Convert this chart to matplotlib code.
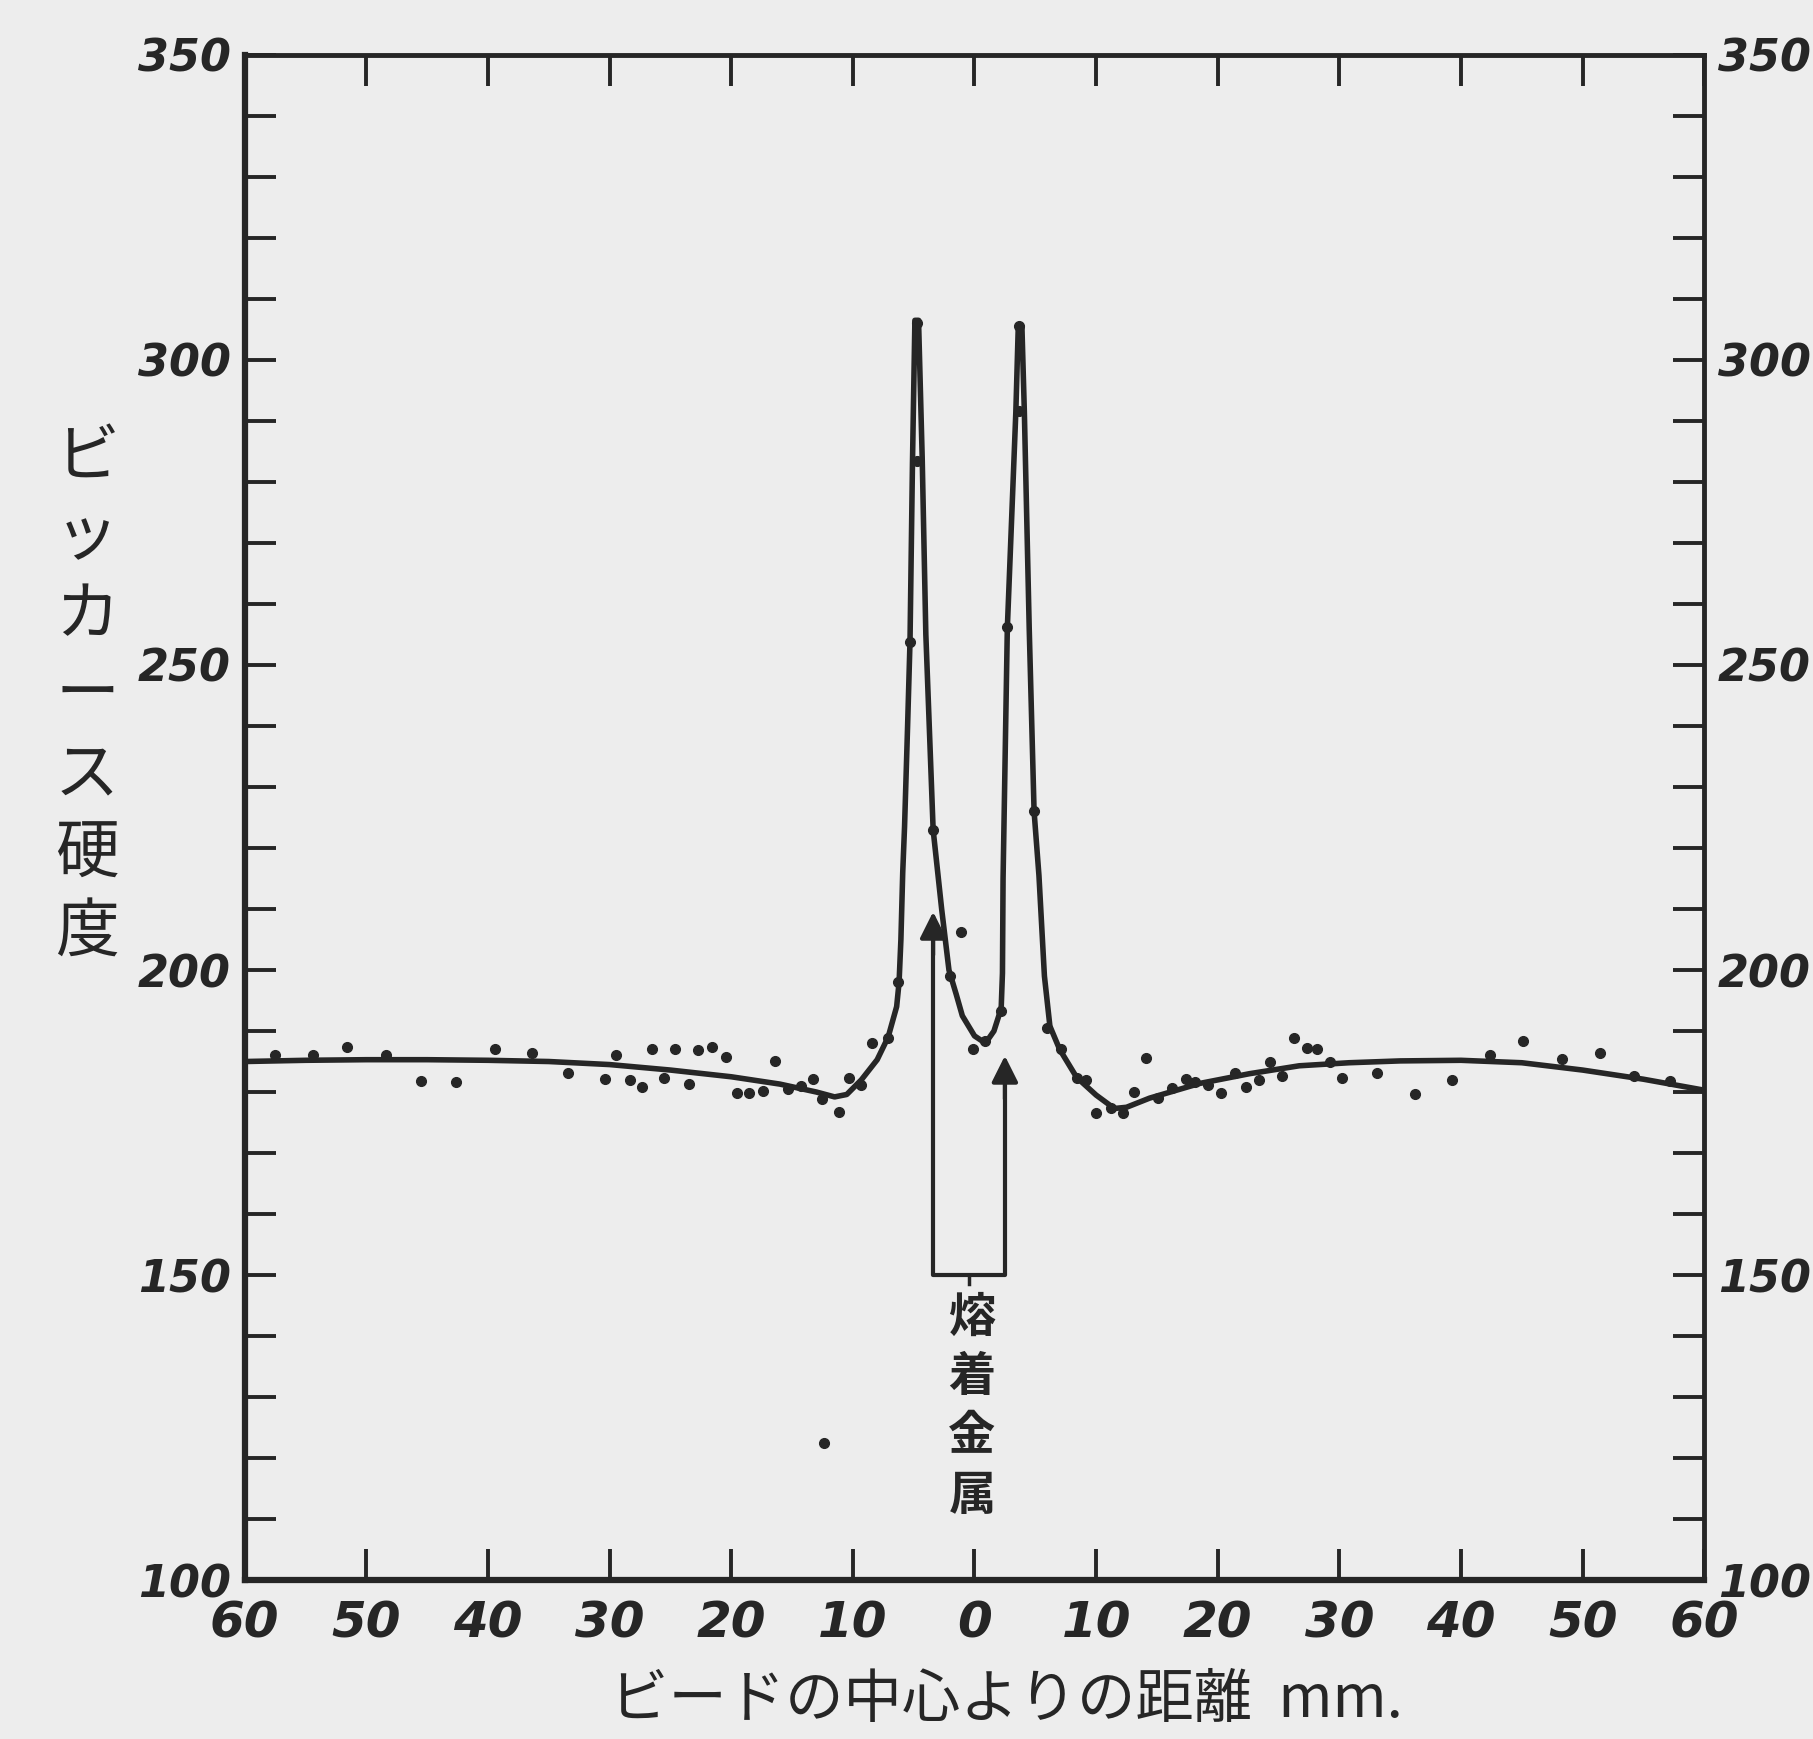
import numpy as np
import matplotlib
matplotlib.use("Agg")
import matplotlib.pyplot as plt
from matplotlib.ticker import MultipleLocator, FuncFormatter

#smooth hardness curve drawn through the points (mm from bead centre, Vickers)
curveX = [-60, -55, -50, -45, -40, -35, -30, -25, -20, -16, -13, -11.5, -10.5, -9.3, -8.0,
          -7.1, -6.4, -6.2, -6.05, -5.9, -5.75, -5.5, -5.3, -5.1, -4.9, -4.6, -4.3, -4.0,
          -3.4, -2.7, -2.1, -1.5, -1.0, 0.0, 0.9, 1.6, 2.0, 2.2, 2.3, 2.35, 2.7, 3.4, 3.6,
          3.9, 4.1, 4.5, 4.9, 5.3, 5.75, 6.2, 7.0, 8.4, 10.0, 11.5, 12.5, 14.4, 18.5, 22.6,
          26.7, 30.8, 35, 40, 45, 50, 55, 60]
curveY = [185.0, 185.2, 185.3, 185.3, 185.2, 185.0, 184.5, 183.6, 182.5, 181.3, 180.0,
          179.2, 179.6, 182.0, 185.3, 189.0, 194.0, 198.0, 205.0, 216.0, 223.5, 240.0,
          254.0, 283.0, 306.5, 306.5, 284.0, 255.0, 223.0, 210.0, 200.0, 196.0, 192.5,
          189.2, 188.0, 190.0, 192.5, 194.0, 199.5, 215.0, 256.0, 291.5, 305.5, 305.5,
          291.5, 256.0, 226.0, 215.5, 199.0, 190.8, 187.0, 182.4, 179.5, 177.3, 177.5,
          179.0, 181.4, 183.0, 184.3, 184.8, 185.1, 185.2, 184.8, 183.6, 182.1, 180.3]

#measured points
dotX = [-57.5, -54.4, -51.6, -48.4, -45.5, -42.6, -39.4, -36.4, -33.4, -30.4, -29.5, -28.3,
        -27.3, -26.5, -25.5, -24.6, -23.5, -22.7, -21.6, -20.4, -19.5, -18.5, -17.4, -16.4,
        -15.3, -14.3, -13.3, -12.5, -11.1, -10.3, -9.3, -8.4, -7.1, -6.3, -5.3, -4.7, -4.7,
        -3.4, -2.0, -1.1, -0.1, 0.9, 2.2, 2.7, 3.7, 3.7, 4.9, 6.0, 7.1, 8.4, 9.2, 10.0,
        11.2, 12.2, 13.1, 14.1, 15.1, 16.2, 17.4, 18.1, 19.2, 20.3, 21.4, 22.3, 23.4, 24.3,
        25.3, 26.3, 27.3, 28.2, 29.2, 30.2, 33.1, 36.2, 39.3, 42.4, 45.1, 48.3, 51.4, 54.2,
        57.2, -12.4]
dotY = [186.0, 186.0, 187.4, 186.0, 181.8, 181.7, 187.1, 186.4, 183.1, 182.1, 186.0, 181.9,
        180.9, 187.0, 182.3, 187.0, 181.3, 186.9, 187.4, 185.8, 179.8, 179.8, 180.2, 185.1,
        180.5, 181.0, 182.2, 178.9, 176.8, 182.3, 181.2, 188.1, 188.8, 198.0, 253.8, 283.5,
        306.0, 223.0, 199.0, 206.2, 187.0, 188.4, 193.3, 256.2, 291.6, 305.5, 226.0, 190.5,
        187.0, 182.3, 181.9, 176.5, 177.3, 176.5, 180.0, 185.5, 179.0, 180.7, 182.1, 181.7,
        181.2, 179.9, 183.2, 180.9, 182.0, 184.9, 182.7, 188.8, 187.2, 187.0, 185.0, 182.3,
        183.1, 179.7, 181.9, 186.0, 188.4, 185.4, 186.4, 182.7, 181.8, 122.4]

#weld metal bracket: arrow x positions, bottom, arrow tips
weldLeft, weldRight = -3.4, 2.5
weldBottom = 150
weldTipLeft, weldTipRight = 210, 186.4

xTicks = list(range(-60, 61, 10))
xTickLabels = [str(abs(t)) for t in xTicks]
yTicks = [100, 150, 200, 250, 300, 350]

ylabelText = "ビッカース硬度"
xlabelText = "ビードの中心よりの距離  mm."
weldText = "熔着金属"

ink = "#262626"
paper = "#ededed"
jpFont = ["Noto Sans CJK JP", "DejaVu Sans"]

fig = plt.figure(figsize=(18.13, 17.39), dpi=100, facecolor=paper)
ax = fig.add_axes([0.135, 0.0914, 0.805, 0.877])
ax.set_facecolor(paper)

ax.plot(curveX, curveY, color=ink, lw=4, solid_joinstyle="round", zorder=3)
ax.plot(dotX, dotY, "o", color=ink, ms=7, zorder=4)

#bracket under the weld metal with its two arrows
ax.plot([weldLeft, weldLeft, weldRight, weldRight],
        [weldTipLeft - 3, weldBottom, weldBottom, weldTipRight - 3],
        color=ink, lw=3, solid_joinstyle="round", zorder=3)
ax.plot([(weldLeft + weldRight) / 2] * 2, [weldBottom, weldBottom - 1.5], color=ink, lw=2.5)
for wx, tip in [(weldLeft, weldTipLeft), (weldRight, weldTipRight)]:
    ax.annotate("", xy=(wx, tip), xytext=(wx, tip - 8),
                arrowprops=dict(arrowstyle="-|>", color=ink, lw=3, mutation_scale=40))
ax.text(-0.2, 147, "\n".join(weldText), family=jpFont, fontsize=34, color=ink,
        ha="center", va="top", linespacing=1.3, fontweight="bold")

ax.set_xlim(-60, 60)
ax.set_ylim(100, 350)
ax.set_xticks(xTicks)
ax.set_xticklabels(xTickLabels)
ax.set_yticks(yTicks)
ax.yaxis.set_minor_locator(MultipleLocator(10))
ax.tick_params(axis="both", which="both", direction="in", top=True, right=True,
               length=22, width=2.8, color=ink, labelcolor=ink)
ax.tick_params(axis="x", labelsize=36, pad=14)
ax.tick_params(axis="y", which="major", labelsize=32, labelright=True, pad=10)
for lab in ax.get_xticklabels() + ax.get_yticklabels():
    lab.set_fontstyle("italic")
    lab.set_fontweight("bold")
for side, sp in ax.spines.items():
    sp.set_color(ink)
    sp.set_linewidth(4.5 if side in ("left", "bottom") else 3.5)

fig.text(0.048, 0.60, "\n".join(ylabelText), family=jpFont, fontsize=46, color=ink,
         ha="center", va="center", linespacing=1.25)
fig.text(0.555, 0.022, xlabelText, family=jpFont, fontsize=42, color=ink,
         ha="center", va="center")

fig.savefig("out.png", dpi=100, facecolor=paper)
